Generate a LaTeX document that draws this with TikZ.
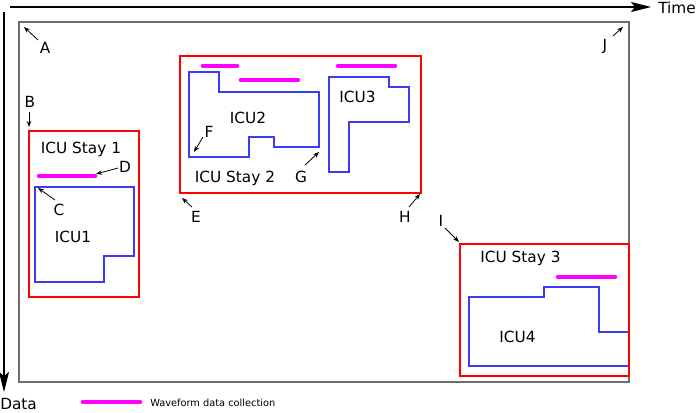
\documentclass[tikz,border=0pt]{standalone}
\usepackage{fontspec}
\setmainfont{DejaVu Sans}
\usetikzlibrary{arrows.meta}
\definecolor{icublue}{RGB}{60,60,245}
\definecolor{wave}{RGB}{255,0,255}
\definecolor{framegray}{RGB}{110,110,110}
\begin{document}
\begin{tikzpicture}[x=0.75pt,y=-0.75pt,
  lbl/.style={font=\fontsize{11.5}{13}\selectfont, inner sep=0pt, anchor=base},
  small/.style={font=\fontsize{7.35}{9}\selectfont, inner sep=0pt, anchor=base west},
  ptr/.style={-{Stealth[length=4.5pt,width=3.4pt]}, line width=0.6pt},
  axis/.style={-{Stealth[length=15pt,width=7.5pt,inset=3pt]}, line width=0.9pt},
  stay/.style={draw=red, line width=0.9pt},
  icu/.style={draw=icublue, line width=0.8pt},
  wavebar/.style={draw=wave, line width=3.4pt, line cap=round},
  frame/.style={draw=framegray, line width=1.1pt}]
\useasboundingbox (0,0) rectangle (697,412);

% axes
\coordinate (t0) at (10,7);
\coordinate (t1) at (651,7);
\draw[axis] (t0) -- (t1);
\node[lbl, anchor=base west] (time) at (658,13) {Time};
\coordinate (d0) at (4,12);
\coordinate (d1) at (4,392);
\draw[axis] (d0) -- (d1);
\node[lbl, anchor=base west] (data) at (0,409.5) {Data};

% outer frame
\draw[frame] (19,22) rectangle (629,382);

% ICU polygons
\draw[icu] (35,187) -- (134,187) -- (134,256) -- (104,256) -- (104,282) -- (35,282) -- cycle;
\draw[icu] (189,72) -- (219,72) -- (219,92) -- (319,92) -- (319,147) -- (274,147) -- (274,137) -- (249,137) -- (249,157) -- (189,157) -- cycle;
\draw[icu] (329,77) -- (389,77) -- (389,87) -- (409,87) -- (409,122) -- (349,122) -- (349,172) -- (329,172) -- cycle;
\draw[icu] (469,297) -- (544,297) -- (544,287) -- (599,287) -- (599,332) -- (629,332) -- (629,366) -- (469,366) -- cycle;

% ICU stays
\draw[stay] (29,131) rectangle (139,297);
\draw[stay] (180,56) rectangle (421,193);
\draw[stay] (460,244) rectangle (629,376);

% waveform bars
\draw[wavebar] (39,176) -- (95,176);
\draw[wavebar] (203,66) -- (237,66);
\draw[wavebar] (241,80) -- (298,80);
\draw[wavebar] (338,66) -- (395,66);
\draw[wavebar] (558,277) -- (615,277);
\draw[wavebar] (83,402) -- (140,402);
\node[small] (legend) at (150,406) {Waveform data collection};

% labels
\node[lbl] (stay1) at (81,153) {ICU Stay 1};
\node[lbl] (icu1) at (73,242) {ICU1};
\node[lbl] (icu2) at (248,123) {ICU2};
\node[lbl] (stay2) at (235,182) {ICU Stay 2};
\node[lbl] (icu3) at (357.5,102) {ICU3};
\node[lbl] (stay3) at (520.5,262) {ICU Stay 3};
\node[lbl] (icu4) at (517.5,342) {ICU4};

\node[lbl] (la) at (45,53) {A};
\node[lbl] (lb) at (30,107) {B};
\node[lbl] (lc) at (59,215) {C};
\node[lbl] (ld) at (125,172) {D};
\node[lbl] (le) at (196,222) {E};
\node[lbl] (lf) at (209,137) {F};
\node[lbl] (lg) at (301,182) {G};
\node[lbl] (lh) at (405,222) {H};
\node[lbl] (li) at (441,226) {I};
\node[lbl] (lj) at (605,50) {J};

% pointer arrows
\coordinate (a0) at (38,40);   \coordinate (a1) at (24,27);
\coordinate (b0) at (29,112);  \coordinate (b1) at (29,127);
\coordinate (c0) at (55,200);  \coordinate (c1) at (38,188);
\coordinate (dd0) at (118,168); \coordinate (dd1) at (96,174);
\coordinate (e0) at (192,207); \coordinate (e1) at (182,198);
\coordinate (f0) at (203,137); \coordinate (f1) at (194,152);
\coordinate (g0) at (305,165); \coordinate (g1) at (319,152);
\coordinate (h0) at (409,207); \coordinate (h1) at (420,194);
\coordinate (i0) at (445,228); \coordinate (i1) at (459,242);
\coordinate (j0) at (613,36);  \coordinate (j1) at (623,27);
\draw[ptr] (a0) -- (a1);
\draw[ptr] (b0) -- (b1);
\draw[ptr] (c0) -- (c1);
\draw[ptr] (dd0) -- (dd1);
\draw[ptr] (e0) -- (e1);
\draw[ptr] (f0) -- (f1);
\draw[ptr] (g0) -- (g1);
\draw[ptr] (h0) -- (h1);
\draw[ptr] (i0) -- (i1);
\draw[ptr] (j0) -- (j1);
\end{tikzpicture}
\end{document}
